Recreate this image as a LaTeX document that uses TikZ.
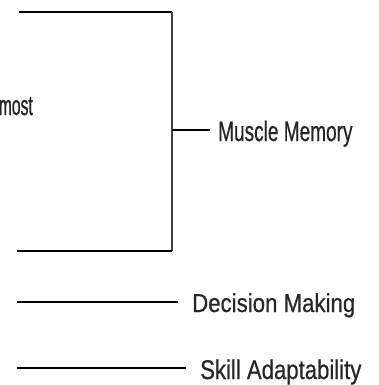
\documentclass[tikz,border=0pt]{standalone}
\usepackage{fontspec}
\setmainfont{Liberation Sans}[FakeStretch=0.84,FakeBold=0.5]
\newfontfamily\mmfont{Liberation Sans}[FakeStretch=0.68,FakeBold=0.5]
\newfontfamily\dmfont{Liberation Sans}[FakeStretch=0.855,FakeBold=0.5]
\newfontfamily\safont{Liberation Sans}[FakeStretch=0.82,FakeBold=0.5]
\newfontfamily\narrowfont{Liberation Sans}[FakeStretch=0.56,FakeBold=0.9]
\begin{document}
\begin{tikzpicture}[x=1pt,y=-1pt,
  lbl/.style={inner sep=0pt, anchor=base west, text=black!85},
  bar/.style={line width=2pt, black},
  spine/.style={line width=1.5pt, black!75}]
\useasboundingbox (0,0) rectangle (378,385);
% bracket
\coordinate (tl) at (19,12);
\coordinate (tr) at (172,12);
\coordinate (br) at (172,251);
\coordinate (bl) at (17,251);
\coordinate (mid) at (172,130);
\draw[bar] (tl) -- (tr);
\draw[spine] (tr) -- (br);
\draw[bar] (bl) -- (br);
% labels
\node[lbl, font=\mmfont\fontsize{28}{30}\selectfont] (mm) at (218,141) {Muscle Memory};
\node[lbl, font=\dmfont\fontsize{26}{28}\selectfont] (dm) at (192,312) {Decision Making};
\node[lbl, font=\safont\fontsize{27}{28}\selectfont] (sa) at (200,379) {Skill Adaptability};
\node[inner sep=0pt, anchor=base east, text=black!85, font=\narrowfont\fontsize{28}{30}\selectfont] (ms) at (33,115) {most};
% connectors
\coordinate (dl) at (17,302);
\coordinate (sl) at (17,368);
\draw[bar] (mid) -- (210,130);
\draw[bar] (dl) -- (178,302);
\draw[bar] (sl) -- (186,368);
\end{tikzpicture}
\end{document}
